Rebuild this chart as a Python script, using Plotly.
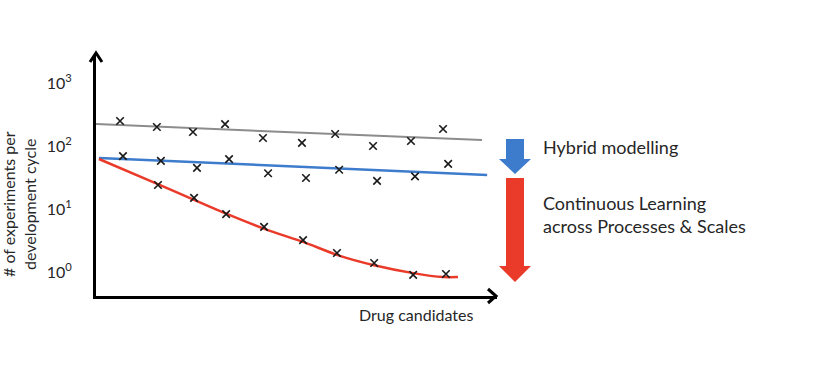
import plotly.graph_objects as go

# ---- data ----
# x = position along "Drug candidates" axis (arbitrary units), y = # experiments (log scale)
gray_x = [0.66, 1.67, 2.66, 3.54, 4.58, 5.65, 6.56, 7.60, 8.64, 9.52]
gray_y = [249, 200, 167, 223, 134, 112, 155, 100, 120, 186]
blue_x = [0.74, 1.78, 2.77, 3.65, 4.72, 5.76, 6.67, 7.71, 8.75, 9.66]
blue_y = [69, 58, 45, 62, 37, 31, 42, 28, 33, 52]
red_x = [1.70, 2.69, 3.57, 4.61, 5.68, 6.61, 7.63, 8.70, 9.60]
red_y = [24, 15, 8.3, 5.2, 3.2, 2.0, 1.39, 0.90, 0.93]

gray_fit_x = [0.0, 10.59]
gray_fit_y = [223, 124]
blue_fit_x = [0.08, 10.73]
blue_fit_y = [64.5, 34.7]
red_fit_x = [0.08, 1.76, 3.54, 4.64, 5.68, 6.69, 7.60, 8.70, 9.52, 9.93]
red_fit_y = [62.2, 24, 8.6, 4.8, 3.0, 1.8, 1.29, 0.96, 0.83, 0.83]

tick_vals = [1, 10, 100, 1000]
tick_text = ["10<sup>0</sup>", "10<sup>1</sup>", "10<sup>2</sup>", "10<sup>3</sup>"]

GRAY = "#8c8c8c"
BLUE = "#3d7ccc"
RED = "#ea3a2a"
TXT = "#262626"
FONT = "Lato"

W, H = 822, 377
L, R, T, B = 96, 325, 55, 81
PW, PH = W - L - R, H - T - B


def px(x):
    return (x - L) / PW


def py(y):
    return (H - B - y) / PH


fig = go.Figure()
fig.add_trace(go.Scatter(x=gray_fit_x, y=gray_fit_y, mode="lines",
                         line=dict(color=GRAY, width=2), hoverinfo="skip"))
fig.add_trace(go.Scatter(x=blue_fit_x, y=blue_fit_y, mode="lines",
                         line=dict(color=BLUE, width=2.5), hoverinfo="skip"))
fig.add_trace(go.Scatter(x=red_fit_x, y=red_fit_y, mode="lines",
                         line=dict(color=RED, width=2.5, shape="spline", smoothing=0.8),
                         hoverinfo="skip"))
for xs, ys in [(gray_x, gray_y), (blue_x, blue_y), (red_x, red_y)]:
    fig.add_trace(go.Scatter(x=xs, y=ys, mode="markers",
                             marker=dict(symbol="x-thin", size=7.5, color="#1a1a1a",
                                         line=dict(color="#1a1a1a", width=1.6))))

# axis arrowheads
shapes = [
    dict(type="path", xref="paper", yref="paper",
         path=f"M {px(90)},{py(62)} L {px(96)},{py(53)} L {px(102)},{py(62)}",
         line=dict(color="black", width=3)),
    dict(type="path", xref="paper", yref="paper",
         path=f"M {px(488)},{py(289)} L {px(496)},{py(296)} L {px(488)},{py(303)}",
         line=dict(color="black", width=3)),
]


def block_arrow(top, head, tip, color):
    p = (f"M {px(506)},{py(top)} L {px(524)},{py(top)} L {px(524)},{py(head)} "
         f"L {px(531)},{py(head)} L {px(515)},{py(tip)} L {px(499)},{py(head)} "
         f"L {px(506)},{py(head)} Z")
    return dict(type="path", xref="paper", yref="paper", path=p,
                fillcolor=color, line=dict(width=0))


shapes.append(block_arrow(139, 159, 174, BLUE))
shapes.append(block_arrow(178, 266, 282, RED))

annotations = [
    dict(text="# of experiments per<br>development cycle", textangle=-90,
         x=px(19), y=py(204), xref="paper", yref="paper", showarrow=False,
         xanchor="center", yanchor="middle",
         font=dict(family=FONT, size=16, color=TXT), align="center"),
    dict(text="Drug candidates", x=px(416), y=py(314), xref="paper", yref="paper",
         xanchor="center", yanchor="middle",
         showarrow=False, font=dict(family=FONT, size=16, color=TXT)),
    dict(text="Hybrid modelling", x=px(541), y=py(147), xref="paper", yref="paper",
         xanchor="left", yanchor="middle", showarrow=False,
         font=dict(family=FONT, size=18, color=TXT)),
    dict(text="Continuous Learning<br>across Processes & Scales", x=px(541), y=py(214),
         xref="paper", yref="paper", xanchor="left", yanchor="middle", align="left",
         showarrow=False, font=dict(family=FONT, size=18, color=TXT)),
]

fig.update_layout(
    width=W, height=H,
    margin=dict(l=L, r=R, t=T, b=B),
    paper_bgcolor="white", plot_bgcolor="white",
    showlegend=False,
    shapes=shapes, annotations=annotations,
    font=dict(family=FONT, color=TXT),
)
fig.update_xaxes(range=[0, 11], showgrid=False, zeroline=False, showticklabels=False,
                 ticks="", showline=True, linecolor="black", linewidth=3)
fig.update_yaxes(type="log", range=[(272 - 296) / 63, (272 - 55) / 63], showgrid=False,
                 zeroline=False, tickvals=tick_vals, ticktext=tick_text, ticks="",
                 ticklabelstandoff=18, tickfont=dict(family=FONT, size=16, color=TXT),
                 showline=True, linecolor="black", linewidth=3)

fig.write_html("out.html", config={"displayModeBar": False},
               post_script="document.body.style.margin='0';")
